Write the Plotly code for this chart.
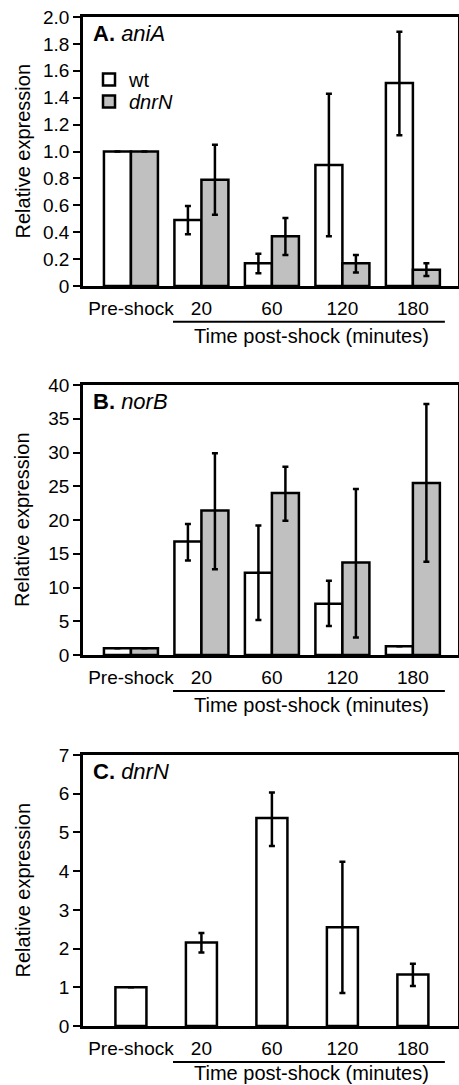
import plotly.graph_objects as go
from plotly.subplots import make_subplots

# ---------------- data ----------------
categories = ["Pre-shock", "20", "60", "120", "180"]

# Panel A: aniA
aniA_wt = [1.0, 0.49, 0.17, 0.90, 1.51]
aniA_wt_hi = [0, 0.105, 0.07, 0.53, 0.38]
aniA_wt_lo = [0, 0.105, 0.075, 0.53, 0.39]
aniA_dnrN = [1.0, 0.79, 0.37, 0.17, 0.12]
aniA_dnrN_hi = [0, 0.26, 0.135, 0.06, 0.05]
aniA_dnrN_lo = [0, 0.26, 0.14, 0.07, 0.045]

# Panel B: norB
norB_wt = [1.0, 16.8, 12.2, 7.6, 1.3]
norB_wt_hi = [0, 2.6, 7.0, 3.4, 0]
norB_wt_lo = [0, 2.8, 7.0, 3.3, 0]
norB_dnrN = [1.0, 21.4, 24.0, 13.7, 25.5]
norB_dnrN_hi = [0, 8.5, 3.9, 10.9, 11.7]
norB_dnrN_lo = [0, 8.7, 4.1, 11.1, 11.7]

# Panel C: dnrN
dnrN_wt = [1.0, 2.16, 5.37, 2.55, 1.33]
dnrN_wt_hi = [0, 0.24, 0.66, 1.69, 0.28]
dnrN_wt_lo = [0, 0.26, 0.72, 1.70, 0.30]

# axis ticks
ticks_A = [0, 0.2, 0.4, 0.6, 0.8, 1.0, 1.2, 1.4, 1.6, 1.8, 2.0]
ticktext_A = ["0", "0.2", "0.4", "0.6", "0.8", "1.0", "1.2", "1.4", "1.6", "1.8", "2.0"]
ticks_B = [0, 5, 10, 15, 20, 25, 30, 35, 40]
ticks_C = [0, 1, 2, 3, 4, 5, 6, 7]

panel_labels = ["<b>A.</b> <i>aniA</i>", "<b>B.</b> <i>norB</i>", "<b>C.</b> <i>dnrN</i>"]
ytitle = "Relative expression"
xtitle = "Time post-shock (minutes)"
legend_names = ["wt", "<i>dnrN</i>"]

FONT = "Liberation Sans, Arial, sans-serif"
WHITE = "#ffffff"
GRAY = "#c0c0c0"
LW = 2.5

fig = make_subplots(rows=3, cols=1)

def err(hi, lo):
    return dict(type="data", symmetric=False, array=hi, arrayminus=lo,
                color="black", thickness=2.5, width=3, visible=True)

def mk(color):
    return dict(color=color, line=dict(color="black", width=LW))

# Panel A
fig.add_trace(go.Bar(x=categories, y=aniA_wt, name=legend_names[0], marker=mk(WHITE),
                     error_y=err(aniA_wt_hi, aniA_wt_lo), legend="legend"), row=1, col=1)
fig.add_trace(go.Bar(x=categories, y=aniA_dnrN, name=legend_names[1], marker=mk(GRAY),
                     error_y=err(aniA_dnrN_hi, aniA_dnrN_lo), legend="legend2"), row=1, col=1)
# Panel B
fig.add_trace(go.Bar(x=categories, y=norB_wt, name=legend_names[0], showlegend=False,
                     marker=mk(WHITE), error_y=err(norB_wt_hi, norB_wt_lo)), row=2, col=1)
fig.add_trace(go.Bar(x=categories, y=norB_dnrN, name=legend_names[1], showlegend=False,
                     marker=mk(GRAY), error_y=err(norB_dnrN_hi, norB_dnrN_lo)), row=2, col=1)
# Panel C
fig.add_trace(go.Bar(x=categories, y=dnrN_wt, name=legend_names[0], showlegend=False,
                     width=0.44, marker=mk(WHITE),
                     error_y=err(dnrN_wt_hi, dnrN_wt_lo)), row=3, col=1)

W, H = 459, 1085
ml, mr, mt, mb = 83, 1, 17, 59
ph = H - mt - mb

def py(px):
    return (H - mb - px) / ph

domains = [[py(286), py(17)], [py(655), py(385)], [py(1026), py(755)]]
yticks = [(ticks_A, ticktext_A), (ticks_B, [str(v) for v in ticks_B]), (ticks_C, [str(v) for v in ticks_C])]
yranges = [[0, 2.0], [0, 40], [0, 7]]
xtitle_pos = [-0.187, -0.187, -0.174]

for i in range(3):
    xa = "xaxis" if i == 0 else f"xaxis{i+1}"
    ya = "yaxis" if i == 0 else f"yaxis{i+1}"
    fig.layout[xa].update(range=[-0.68, 4.64], showline=True, linecolor="black", linewidth=LW,
                          mirror=True, ticks="", showgrid=False, zeroline=False,
                          tickfont=dict(family=FONT, size=19, color="black"),
                          ticklabelstandoff=3)
    fig.layout[ya].update(domain=domains[i], range=yranges[i], showline=True, linecolor="black",
                          linewidth=LW, mirror=True, ticks="outside", ticklen=7, tickwidth=2,
                          tickcolor="black", tickvals=yticks[i][0], ticktext=yticks[i][1],
                          showgrid=False, zeroline=False,
                          tickfont=dict(family=FONT, size=19, color="black"))
    xref = "x domain" if i == 0 else f"x{i+1} domain"
    yref = "y domain" if i == 0 else f"y{i+1} domain"
    # panel label
    fig.add_annotation(text=panel_labels[i], xref=xref, yref=yref, x=0.022, y=0.94,
                       xanchor="left", yanchor="middle", showarrow=False,
                       font=dict(family=FONT, size=22, color="black"))
    # y title
    fig.add_annotation(text=ytitle, xref="paper", yref=yref, x=(22 - ml) / (W - ml - mr), y=0.5,
                       xanchor="center", yanchor="middle", textangle=-90, showarrow=False,
                       font=dict(family=FONT, size=20, color="black"))
    # bracket line under post-shock time labels
    fig.add_shape(type="line", xref=xref, yref=yref, x0=0.24, x1=0.965, y0=-0.133, y1=-0.133,
                  line=dict(color="black", width=2))
    fig.add_annotation(text=xtitle, xref=xref, yref=yref, x=0.61, y=xtitle_pos[i],
                       xanchor="center", yanchor="middle", showarrow=False,
                       font=dict(family=FONT, size=20, color="black"))

leg_common = dict(xanchor="left", yanchor="top", bgcolor="rgba(0,0,0,0)",
                  font=dict(family=FONT, size=20, color="black"))

fig.update_layout(
    width=W, height=H, margin=dict(l=ml, r=mr, t=mt, b=mb, autoexpand=False),
    barmode="group", bargap=0.234, bargroupgap=0,
    plot_bgcolor="white", paper_bgcolor="white",
    font=dict(family=FONT, color="black"),
    legend=dict(x=0.016, y=py(60), **leg_common),
    legend2=dict(x=0.016, y=py(82), **leg_common),
)

fig.write_html("out.html")
